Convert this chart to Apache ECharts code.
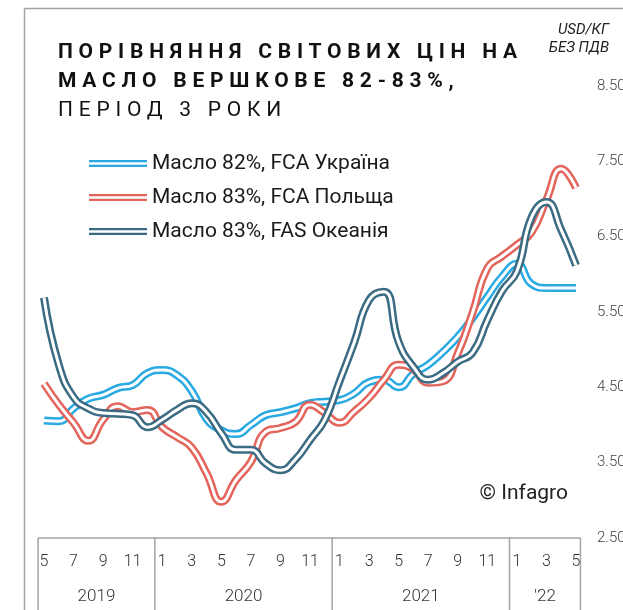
<!DOCTYPE html>
<html>
<head>
<meta charset="utf-8">
<script src="https://cdn.jsdelivr.net/npm/echarts@6/dist/echarts.min.js"></script>
<style>
  html, body { margin: 0; padding: 0; background: #fff; }
  #chart { width: 623px; height: 610px; }
</style>
</head>
<body>
<div id="chart"></div>
<script>
// canvas text has no letter-spacing option in echarts, so the title font gets it here
(function () {
    var proto = CanvasRenderingContext2D.prototype;
    ['fillText', 'strokeText'].forEach(function (fn) {
        var orig = proto[fn];
        proto[fn] = function () {
            if ('letterSpacing' in this) {
                this.letterSpacing = this.font.indexOf('spacedTitle') >= 0 ? '5.75px' : '0px';
            }
            return orig.apply(this, arguments);
        };
    });
})();

var titleBold = ['ПОРІВНЯННЯ СВІТОВИХ ЦІН НА', 'МАСЛО ВЕРШКОВЕ 82-83%,'];
var titleLight = 'ПЕРІОД 3 РОКИ';
var unitLabel = 'USD/КГ\nБЕЗ ПДВ';
var sourceLabel = '© Infagro';

// May 2019 .. May 2022, monthly
var months = ['5', '6', '7', '8', '9', '10', '11', '12',
    '1', '2', '3', '4', '5', '6', '7', '8', '9', '10', '11', '12',
    '1', '2', '3', '4', '5', '6', '7', '8', '9', '10', '11', '12',
    '1', '2', '3', '4', '5'];
var years = ['2019', '2020', '2021', "'22"];
var yearStart = [0, 8, 20, 32]; // index of first month of each year

var yLabels = ['2.50', '3.50', '4.50', '5.50', '6.50', '7.50', '8.50'];

var seriesNames = ['Масло 82%, FCA Україна', 'Масло 83%, FCA Польща', 'Масло 83%, FAS Океанія'];
var seriesColors = ['#29a9e1', '#e3645a', '#3a6b82'];

var ukraine = [4.06, 4.05, 4.22, 4.35, 4.40, 4.49, 4.53, 4.69, 4.73, 4.66, 4.45, 4.08, 3.93,
    3.88, 4.00, 4.13, 4.17, 4.22, 4.29, 4.31, 4.33, 4.42, 4.57, 4.60, 4.50, 4.68, 4.80,
    4.97, 5.17, 5.42, 5.70, 5.97, 6.14, 5.87, 5.82, 5.82, 5.82];
var poland = [4.55, 4.27, 4.03, 3.79, 4.07, 4.25, 4.17, 4.20, 3.97, 3.84, 3.70, 3.36, 2.98,
    3.27, 3.51, 3.91, 3.96, 4.04, 4.27, 4.16, 4.03, 4.18, 4.36, 4.60, 4.80, 4.74, 4.56,
    4.58, 4.95, 5.49, 6.08, 6.24, 6.39, 6.56, 6.99, 7.40, 7.15];
var oceania = [5.69, 4.80, 4.37, 4.22, 4.16, 4.15, 4.13, 3.97, 4.07, 4.20, 4.29, 4.17, 3.89,
    3.67, 3.67, 3.49, 3.40, 3.54, 3.80, 4.07, 4.58, 5.10, 5.66, 5.77, 5.10, 4.77, 4.60,
    4.69, 4.84, 4.96, 5.39, 5.78, 6.04, 6.76, 6.96, 6.59, 6.12];
var seriesData = [ukraine, poland, oceania];

var frameColor = '#a3a3a3';
var textColor = '#1a1a1a';

// each line is a thick coloured stroke with a thin white one on top
function tube(i) {
    return [{
        type: 'line',
        name: seriesNames[i],
        data: seriesData[i],
        color: seriesColors[i],
        smooth: true,
        symbol: 'none',
        lineStyle: { width: 8, color: seriesColors[i] }
    }, {
        type: 'line',
        name: '',
        data: seriesData[i],
        smooth: true,
        symbol: 'none',
        silent: true,
        lineStyle: { width: 3, color: '#fff' }
    }];
}

var chart = echarts.init(document.getElementById('chart'), null, { renderer: 'canvas' });

var option = {
    animation: false,
    backgroundColor: '#fff',
    textStyle: { fontFamily: 'Roboto' },
    title: {
        left: 58,
        top: 38,
        text: titleBold.join('\n'),
        textStyle: { fontFamily: 'Roboto, spacedTitle', fontSize: 21, fontWeight: 'bold', color: '#111', lineHeight: 29 },
        subtext: titleLight,
        subtextStyle: { fontFamily: 'Roboto, spacedTitle', fontSize: 21, fontWeight: 'normal', color: '#111', lineHeight: 29 },
        itemGap: 0,
        padding: 0
    },
    legend: {
        data: seriesNames,
        orient: 'vertical',
        left: 89,
        top: 153,
        padding: 0,
        itemGap: 13,
        itemWidth: 58,
        itemHeight: 7,
        icon: 'path://M0,0H58V2.3H0Z M0,4.7H58V7H0Z',
        itemStyle: { borderWidth: 0 },
        textStyle: { fontSize: 21, color: textColor }
    },
    grid: {
        left: 44,
        right: 47,
        top: 86,
        bottom: 72,
        outerBoundsMode: 'none'
    },
    xAxis: {
        type: 'category',
        data: months,
        boundaryGap: false,
        axisLine: { show: false },
        axisTick: { show: false },
        splitLine: { show: false },
        axisLabel: {
            interval: 1,
            margin: 16,
            fontSize: 16,
            fontWeight: 300,
            color: '#333'
        }
    },
    yAxis: {
        type: 'value',
        position: 'right',
        min: 2.5,
        max: 8.5,
        interval: 0.5,
        axisLine: { show: false },
        axisTick: { show: false },
        splitLine: { show: false },
        axisLabel: {
            margin: 21,
            fontSize: 15,
            fontWeight: 300,
            color: '#444',
            formatter: function (v) {
                var s = v.toFixed(2);
                return yLabels.indexOf(s) >= 0 ? s : '';
            }
        }
    },
    series: [].concat(tube(0), tube(1), tube(2))
};

chart.setOption(option);

// the month/year table under the plot, placed with the axis scale
function px(i) {
    var a = chart.convertToPixel({ xAxisIndex: 0 }, 0);
    var b = chart.convertToPixel({ xAxisIndex: 0 }, months.length - 1);
    return a + (b - a) * i / (months.length - 1);
}
var tableTop = chart.convertToPixel({ yAxisIndex: 0 }, 2.5);
var edges = [px(-0.4)];
for (var k = 1; k < yearStart.length; k++) edges.push(px(yearStart[k] - 0.5));
edges.push(px(months.length - 1 + 0.3));

var lineStyle = { stroke: frameColor, lineWidth: 1.5 };
var graphic = [
    { type: 'line', shape: { x1: 24.5, y1: 8.5, x2: 623, y2: 8.5 }, style: lineStyle, silent: true },
    { type: 'line', shape: { x1: 24.5, y1: 8.5, x2: 24.5, y2: 610 }, style: lineStyle, silent: true },
    { type: 'line', shape: { x1: edges[0], y1: tableTop, x2: edges[edges.length - 1], y2: tableTop }, style: lineStyle, silent: true },
    {
        type: 'text', x: 609, y: 21,
        style: {
            text: unitLabel, fontSize: 15, fontStyle: 'italic', fontFamily: 'Roboto',
            fill: '#222', align: 'right', verticalAlign: 'top', lineHeight: 18
        }
    },
    {
        type: 'text', x: 568, y: 494,
        style: { text: sourceLabel, fontSize: 21, fontFamily: 'Roboto', fill: '#222', align: 'right', verticalAlign: 'middle' }
    }
];
edges.forEach(function (x) {
    graphic.push({ type: 'line', shape: { x1: x, y1: tableTop, x2: x, y2: 610 }, style: lineStyle, silent: true });
});
years.forEach(function (y, i) {
    graphic.push({
        type: 'text',
        x: (edges[i] + edges[i + 1]) / 2,
        y: 597,
        style: { text: y, fontSize: 17, fontWeight: 300, fontFamily: 'Roboto', fill: '#333', align: 'center', verticalAlign: 'middle' }
    });
});

chart.setOption({ graphic: graphic });
</script>
</body>
</html>
